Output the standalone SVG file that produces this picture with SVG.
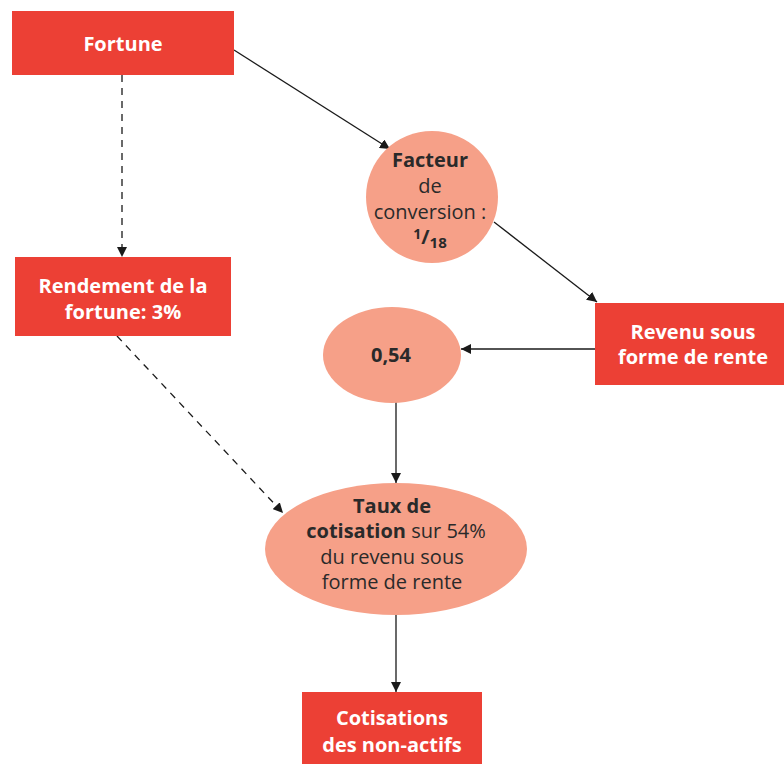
<svg xmlns="http://www.w3.org/2000/svg" width="784" height="764" viewBox="0 0 784 764">
<defs>
<marker id="ah" viewBox="0 0 10 10" refX="10" refY="5" markerWidth="10" markerHeight="10" markerUnits="userSpaceOnUse" orient="auto">
<path d="M0,0 L10,5 L0,10 z" fill="#1a1a1a"/>
</marker>
<style>
.box{fill:#EC4035}
.ell{fill:#F6A088}
.wt{font-family:"Open Sans","Noto Sans","Liberation Sans",sans-serif;font-size:20px;font-weight:bold;fill:#ffffff;text-anchor:middle}
.dt{font-family:"Open Sans","Noto Sans","Liberation Sans",sans-serif;font-size:20px;fill:#2a2a2a;text-anchor:middle}
.b{font-weight:bold}
.ln{stroke:#1a1a1a;stroke-width:1.3;fill:none;marker-end:url(#ah)}
.dash{stroke-dasharray:7,6}
</style>
</defs>
<g id="connectors">
<line class="ln" x1="234" y1="50" x2="390" y2="149"/>
<line class="ln dash" x1="122" y1="75" x2="122" y2="257"/>
<line class="ln" x1="494" y1="222" x2="597" y2="302"/>
<line class="ln" x1="595" y1="349" x2="461" y2="349"/>
<line class="ln" x1="396" y1="402" x2="396" y2="483"/>
<line class="ln dash" x1="117" y1="336" x2="283" y2="513"/>
<line class="ln" x1="396" y1="615" x2="396" y2="692"/>
</g>
<g id="fortune">
<rect class="box" x="12" y="11" width="222" height="64"/>
<text class="wt" x="123" y="51">Fortune</text>
</g>
<g id="rendement">
<rect class="box" x="15" y="257" width="216" height="79"/>
<text class="wt" x="123" y="293">Rendement de la</text>
<text class="wt" x="123" y="319">fortune: 3%</text>
</g>
<g id="facteur">
<circle class="ell" cx="432" cy="197" r="66"/>
<text class="dt b" x="430" y="167">Facteur</text>
<text class="dt" x="430" y="193">de</text>
<text class="dt" x="430" y="219">conversion :</text>
<text class="dt b" x="430" y="244"><tspan font-size="14" dy="-5">1</tspan><tspan dy="5">/</tspan><tspan font-size="15" dy="4">18</tspan></text>
</g>
<g id="revenu">
<rect class="box" x="595" y="303" width="189" height="82"/>
<text class="wt" x="693" y="339">Revenu sous</text>
<text class="wt" x="693" y="364">forme de rente</text>
</g>
<g id="ratio">
<ellipse class="ell" cx="392" cy="355" rx="69" ry="48"/>
<text class="dt b" x="391" y="362">0,54</text>
</g>
<g id="taux">
<ellipse class="ell" cx="396" cy="549" rx="131" ry="66"/>
<text class="dt b" x="392" y="513">Taux de</text>
<text class="dt" x="396" y="538"><tspan class="b">cotisation</tspan> sur 54%</text>
<text class="dt" x="392" y="564">du revenu sous</text>
<text class="dt" x="392" y="589">forme de rente</text>
</g>
<g id="cotisations">
<rect class="box" x="302" y="692" width="180" height="72"/>
<text class="wt" x="392" y="725">Cotisations</text>
<text class="wt" x="392" y="752">des non-actifs</text>
</g>
</svg>
